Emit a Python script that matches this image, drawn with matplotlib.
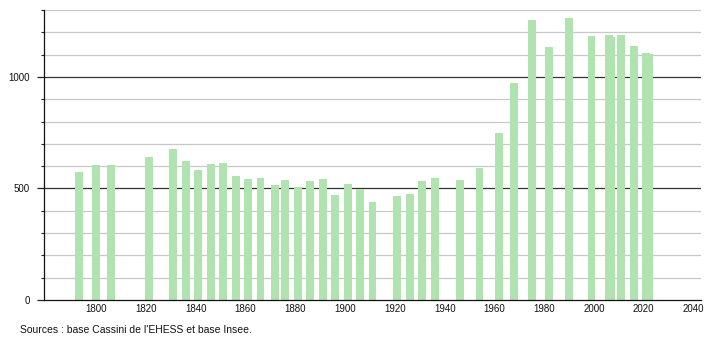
import matplotlib
matplotlib.use("Agg")
import matplotlib.pyplot as plt
from matplotlib.ticker import MultipleLocator

plt.rcParams['font.family'] = ['Liberation Sans', 'DejaVu Sans']

years = [1793, 1800, 1806, 1821, 1831, 1836, 1841, 1846, 1851, 1856, 1861, 1866,
         1872, 1876, 1881, 1886, 1891, 1896, 1901, 1906, 1911, 1921, 1926, 1931,
         1936, 1946, 1954, 1962, 1968, 1975, 1982, 1990, 1999, 2006, 2007, 2011,
         2016, 2021, 2022]
population = [576, 607, 603, 643, 678, 625, 585, 611, 615, 558, 543, 548,
              516, 540, 507, 534, 543, 471, 521, 498, 440, 468, 473, 534,
              548, 540, 590, 750, 974, 1253, 1136, 1266, 1185, 1190, 1178, 1190,
              1140, 1106, 1104]
x_ticks = [1800, 1820, 1840, 1860, 1880, 1900, 1920, 1940, 1960, 1980, 2000, 2020, 2040]
y_ticks = [0, 500, 1000]
source_text = "Sources : base Cassini de l'EHESS et base Insee."

fig = plt.figure(figsize=(7.1, 3.4), dpi=100)
ax = fig.add_axes([44/710, 40/340, (701-44)/710, 290/340])

# gridlines
for v in range(100, 1301, 100):
    if v % 500 == 0:
        ax.axhline(v, color='#333333', lw=0.9, zorder=1)
    else:
        ax.axhline(v, color='#c8c8c8', lw=0.9, zorder=1)

ax.bar(years, population, width=3.2, color='#b0e3b0', zorder=2, linewidth=0)

ax.set_xlim(1779, 2043)
ax.set_ylim(0, 1300)

ax.set_xticks(x_ticks)
ax.set_xticklabels([str(t) for t in x_ticks], fontsize=7, color='#111111')
ax.set_yticks(y_ticks)
ax.set_yticklabels([str(t) for t in y_ticks], fontsize=7, color='#111111')
ax.yaxis.set_minor_locator(MultipleLocator(100))
ax.tick_params(axis='x', length=0, pad=3)
ax.tick_params(axis='y', which='major', length=5, width=0.9, color='#222222', pad=5)
ax.tick_params(axis='y', which='minor', length=2, width=0.8, color='#222222')

for s in ['top', 'right']:
    ax.spines[s].set_visible(False)
ax.spines['left'].set_color('#111111')
ax.spines['left'].set_linewidth(0.9)
ax.spines['bottom'].set_color('#111111')
ax.spines['bottom'].set_linewidth(0.9)

fig.text(20/710, 1 - 330/340, source_text, fontsize=7.5, color='#111111',
         ha='left', va='center')

fig.savefig('out.png', dpi=100)
